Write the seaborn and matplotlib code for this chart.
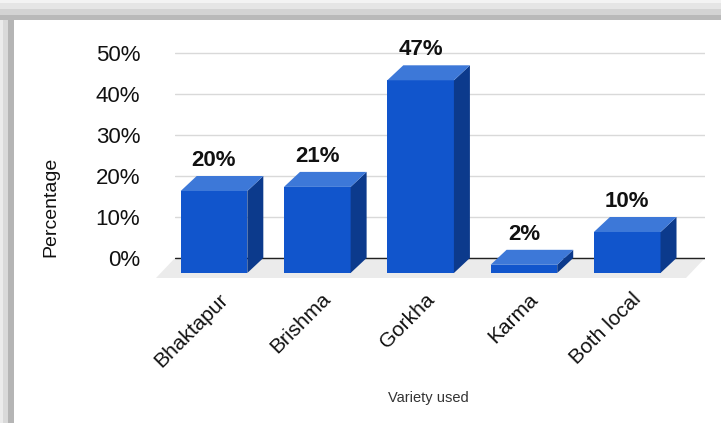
import numpy as np
import pandas as pd
import matplotlib
matplotlib.use("Agg")
import matplotlib.pyplot as plt
import seaborn as sns
from matplotlib.patches import Polygon, Rectangle

# ---- data ----
categories = ["Bhaktapur", "Brishma", "Gorkha", "Karma", "Both local"]
values = [20, 21, 47, 2, 10]
y_ticks = [0, 10, 20, 30, 40, 50]
y_tick_labels = ["0%", "10%", "20%", "30%", "40%", "50%"]
x_label = "Variety used"
y_label = "Percentage"

# ---- styling ----
W, H = 721, 423
FRONT = "#1155cc"
TOP = "#3d78d8"
SIDE = "#0c3a8c"
FLOOR = "#ebebeb"

sns.set_theme(style="white")
plt.rcParams["font.family"] = ["Liberation Sans", "DejaVu Sans"]

fig = plt.figure(figsize=(W / 100, H / 100), dpi=100)
fig.patch.set_facecolor("white")

# pixel geometry of the back plane
x_left_px, x_right_px = 175, 705
zero_px, ppu_y = 258, 4.1          # px per percent
first_center_px, ppu_x = 214, 103.3
ylo, yhi = -5, 50.5
bottom_px = zero_px - ylo * ppu_y
top_px = zero_px - yhi * ppu_y
ax = fig.add_axes([x_left_px / W, (H - bottom_px) / H,
                   (x_right_px - x_left_px) / W, (bottom_px - top_px) / H])
ax.set_facecolor("none")

df = pd.DataFrame({"variety": categories, "pct": values})
bar_w = 0.645
sns.barplot(data=df, x="variety", y="pct", color=FRONT, saturation=1,
            width=bar_w, errorbar=None, ax=ax, zorder=3, linewidth=0)

ax.set_xlim((x_left_px - first_center_px) / ppu_x, (x_right_px - first_center_px) / ppu_x)
ax.set_ylim(ylo, yhi)

dx = 16 / ppu_x     # depth offsets in data units
dy = 15 / ppu_y

for p, v in zip(ax.patches, values):
    x0 = p.get_x()
    w = p.get_width()
    p.set_y(-dy)
    x1 = x0 + w
    side = Polygon([(x1, -dy), (x1 + dx, 0), (x1 + dx, v), (x1, v - dy)],
                   closed=True, facecolor=SIDE, edgecolor="none", zorder=3, clip_on=False)
    top = Polygon([(x0, v - dy), (x1, v - dy), (x1 + dx, v), (x0 + dx, v)],
                  closed=True, facecolor=TOP, edgecolor="none", zorder=3, clip_on=False)
    ax.add_patch(side)
    ax.add_patch(top)
    p.set_clip_on(False)
    ax.text(x0 + w / 2, v + 2.5, f"{v}%", ha="center", va="baseline",
            fontsize=16, fontweight="bold", color="#111111", zorder=5)

# floor
fdx = 19 / ppu_x
fdy = 20 / ppu_y
xl, xr = ax.get_xlim()
floor = Polygon([(xl, 0), (xr, 0), (xr - fdx, -fdy), (xl - fdx, -fdy)],
                closed=True, facecolor=FLOOR, edgecolor="none", zorder=1, clip_on=False)
ax.add_patch(floor)
ax.axhline(0, color="#222222", lw=1, zorder=1.5)

# grid and ticks
ax.set_yticks(y_ticks)
ax.set_yticklabels(y_tick_labels)
ax.grid(axis="y", color="#d9d9d9", lw=1)
ax.grid(axis="x", visible=False)
ax.set_axisbelow(True)
ax.tick_params(axis="y", length=0, pad=25, labelsize=16, labelcolor="#111111")

ax.set_xticks(np.arange(len(categories)) + 4 / ppu_x)
ax.set_xticklabels(categories, rotation=45, ha="right", va="top",
                   rotation_mode="anchor", fontsize=15, color="#111111")
ax.tick_params(axis="x", length=0, pad=8)
ax.set_xlabel("")
ax.set_ylabel("")
for s in ax.spines.values():
    s.set_visible(False)

fig.text(51 / W, 1 - 207 / H, y_label, rotation=90, ha="center", va="center",
         fontsize=14, color="#111111")
fig.text(428 / W, 1 - 398 / H, x_label, ha="center", va="center",
         fontsize=10.5, color="#333333")

# shadow frame
top_bands = [(0, 3.3, "#f3f3f3"), (3.3, 9, "#e5e5e5"), (9, 15, "#d3d3d3"), (15, 20, "#b9b9b9")]
for a, b, c in top_bands:
    fig.add_artist(Rectangle((0, 1 - b / H), 1, (b - a) / H, transform=fig.transFigure,
                             facecolor=c, edgecolor="none", zorder=10))
left_bands = [(0, 3, "#ebebeb"), (3, 8, "#d9d9d9"), (8, 14, "#b5b5b5")]
for a, b, c in left_bands:
    fig.add_artist(Rectangle((a / W, 0), (b - a) / W, 1 - 20 / H, transform=fig.transFigure,
                             facecolor=c, edgecolor="none", zorder=10))

fig.savefig("out.png", dpi=100)
